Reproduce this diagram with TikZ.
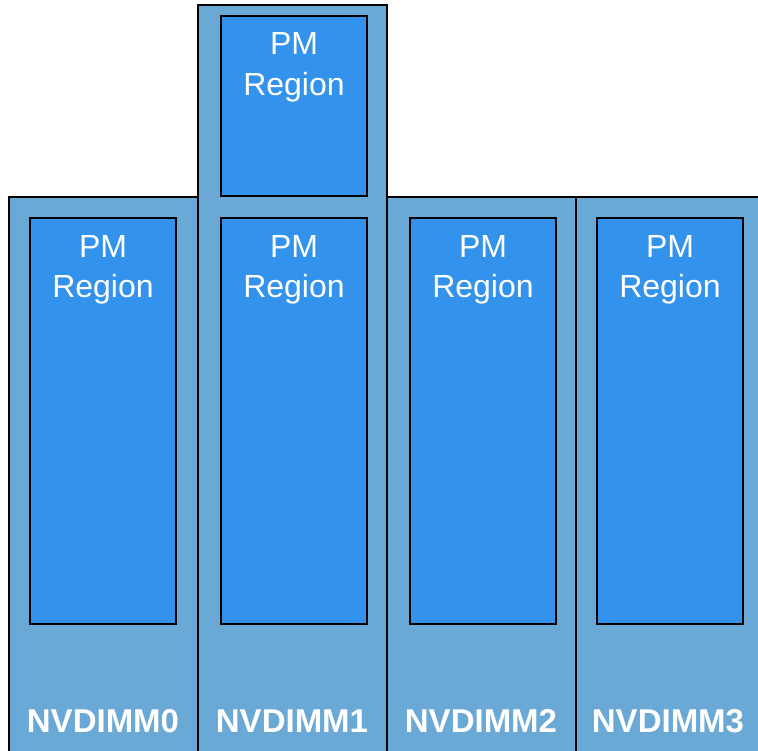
\documentclass[tikz,border=0pt]{standalone}
\usepackage{fontspec}
\setmainfont{Liberation Sans}
\begin{document}
\begin{tikzpicture}[x=1pt,y=-1pt,
  outerbox/.style={draw=black,line width=1.4pt,fill=dimmblue},
  pmbox/.style={draw=black,line width=1.3pt,fill=pmblue},
  pmtext/.style={text=white,font=\fontsize{32}{38}\selectfont,inner sep=0pt,anchor=base},
  dimmtext/.style={text=white,font=\fontsize{33}{38}\selectfont\bfseries,inner sep=0pt,anchor=base}]
\definecolor{dimmblue}{RGB}{106,168,214}
\definecolor{pmblue}{RGB}{50,146,236}
\useasboundingbox (0,0) rectangle (758,751);
\clip (0,0) rectangle (758,751);
% outer NVDIMM boxes
\draw[outerbox] (9,197) rectangle (198,770);
\draw[outerbox] (198,5) rectangle (387,770);
\draw[outerbox] (387,197) rectangle (576,770);
\draw[outerbox] (576,197) rectangle (770,770);
% PM regions
\draw[pmbox] (221,16) rectangle (367,196);
\draw[pmbox] (30,218) rectangle (176,624);
\draw[pmbox] (221,218) rectangle (367,624);
\draw[pmbox] (410,218) rectangle (556,624);
\draw[pmbox] (597,218) rectangle (743,624);
% PM labels
\node[pmtext] (t1a) at (294,55) {PM};
\node[pmtext] (t1b) at (294,96) {Region};
\node[pmtext] (a0) at (103,258) {PM};
\node[pmtext] (b0) at (103,298) {Region};
\node[pmtext] (a1) at (294,258) {PM};
\node[pmtext] (b1) at (294,298) {Region};
\node[pmtext] (a2) at (483,258) {PM};
\node[pmtext] (b2) at (483,298) {Region};
\node[pmtext] (a3) at (670,258) {PM};
\node[pmtext] (b3) at (670,298) {Region};
% NVDIMM labels
\node[dimmtext] (n0) at (103,732) {NVDIMM0};
\node[dimmtext] (n1) at (292,732) {NVDIMM1};
\node[dimmtext] (n2) at (481,732) {NVDIMM2};
\node[dimmtext] (n3) at (668,732) {NVDIMM3};
\end{tikzpicture}
\end{document}
